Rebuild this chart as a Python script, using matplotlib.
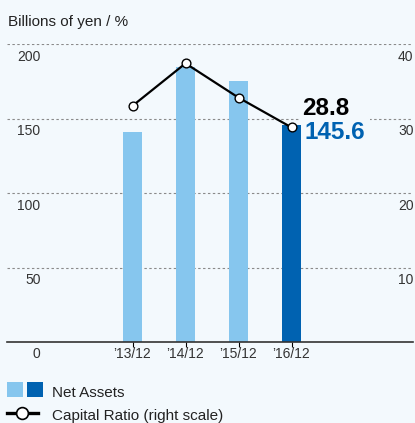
import numpy as np
import matplotlib
matplotlib.use('Agg')
import matplotlib.pyplot as plt
from matplotlib.lines import Line2D
from matplotlib.patches import Rectangle

plt.rcParams['font.family'] = ['Liberation Sans', 'DejaVu Sans']

years = ["\u201913/12", "\u201914/12", "\u201915/12", "\u201916/12"]
net_assets = [141.0, 184.8, 175.4, 145.6]
capital_ratio = [31.7, 37.4, 32.8, 28.8]
left_ticks = [0, 50, 100, 150, 200]
right_ticks = [10, 20, 30, 40]

bg = '#f3f9fd'
light = '#86c6ee'
dark = '#0062b1'

W, H = 415, 423
fig = plt.figure(figsize=(W / 100, H / 100), dpi=100, facecolor=bg)

ax = fig.add_axes([7 / W, 1 - 342 / H, 406 / W, 298 / H])
ax.set_facecolor(bg)
ax.set_xlim(-2.368, 5.292)
ax.set_ylim(0, 200)
for s in ['top', 'left', 'right']:
    ax.spines[s].set_visible(False)
ax.spines['bottom'].set_color('#333333')
ax.spines['bottom'].set_linewidth(1.2)
ax.spines['bottom'].set_zorder(4)
ax.set_yticks([])

# dashed grid
for v in left_ticks[1:]:
    ax.axhline(v, color='#8a8a8a', lw=0.8, ls=(0, (2.2, 2.2)), zorder=1)

x = np.arange(len(years))
colors = [light] * (len(years) - 1) + [dark]
ax.bar(x, net_assets, width=0.358, color=colors, zorder=2)

ax2 = ax.twinx()
ax2.set_ylim(0, 40)
ax2.axis('off')
ax2.plot(x, capital_ratio, color='black', lw=1.6, marker='o', ms=6.3,
         mfc='white', mec='black', mew=1.0, zorder=5)

ax.set_xticks(x)
ax.set_xticklabels([])
for xi, lab in zip(x, years):
    ax.annotate(lab, xy=(xi, 0), xytext=(0, -16.5), textcoords='offset pixels',
                ha='center', va='baseline', fontsize=10, color='#333333')

tr_left = ax.get_yaxis_transform()
for v in left_ticks:
    ax.annotate(str(v), xy=(0, v), xycoords=tr_left, xytext=(33.5, -16.5),
                textcoords='offset pixels', ha='right', va='baseline',
                fontsize=10, color='#333333', annotation_clip=False)
tr_right = ax2.get_yaxis_transform()
for v in right_ticks:
    ax2.annotate(str(v), xy=(1, v), xycoords=tr_right, xytext=(0.5, -16.5),
                 textcoords='offset pixels', ha='right', va='baseline',
                 fontsize=10, color='#333333', annotation_clip=False)

# value labels for latest year
ax2.annotate(f"{capital_ratio[-1]:.1f}", xy=(x[-1], capital_ratio[-1]),
             xytext=(11, 12), textcoords='offset pixels', ha='left',
             va='baseline', fontsize=17.5, fontweight='bold', color='black',
             zorder=6)
ax.annotate(f"{net_assets[-1]:.1f}", xy=(x[-1], capital_ratio[-1]),
            xycoords=ax2.transData,
            xytext=(13, -12), textcoords='offset pixels', ha='left',
            va='baseline', fontsize=17.5, fontweight='bold', color=dark,
            zorder=1.5,
            bbox=dict(boxstyle='square,pad=0.2', fc=bg, ec='none'))

# title
fig.text(8 / W, 1 - 25.7 / H, "Billions of yen / %", ha='left', va='baseline',
         fontsize=11, color='#222222')

# legend
fig.patches.append(Rectangle((7 / W, 1 - 397 / H), 16 / W, 15 / H,
                             transform=fig.transFigure, fc=light, ec='none'))
fig.patches.append(Rectangle((27 / W, 1 - 397 / H), 16 / W, 15 / H,
                             transform=fig.transFigure, fc=dark, ec='none'))
fig.text(52 / W, 1 - 397 / H, "Net Assets", ha='left', va='baseline',
         fontsize=11, color='#222222')
fig.lines.append(Line2D([7 / W, 38 / W], [1 - 413 / H, 1 - 413 / H],
                        transform=fig.transFigure, color='black', lw=2.4))
fig.lines.append(Line2D([22 / W], [1 - 413 / H], transform=fig.transFigure,
                        marker='o', ms=8.5, mfc='white', mec='black', mew=1.2))
fig.text(52 / W, 1 - 420 / H, "Capital Ratio (right scale)", ha='left',
         va='baseline', fontsize=11, color='#222222')

fig.savefig('out.png', dpi=100, facecolor=bg)
